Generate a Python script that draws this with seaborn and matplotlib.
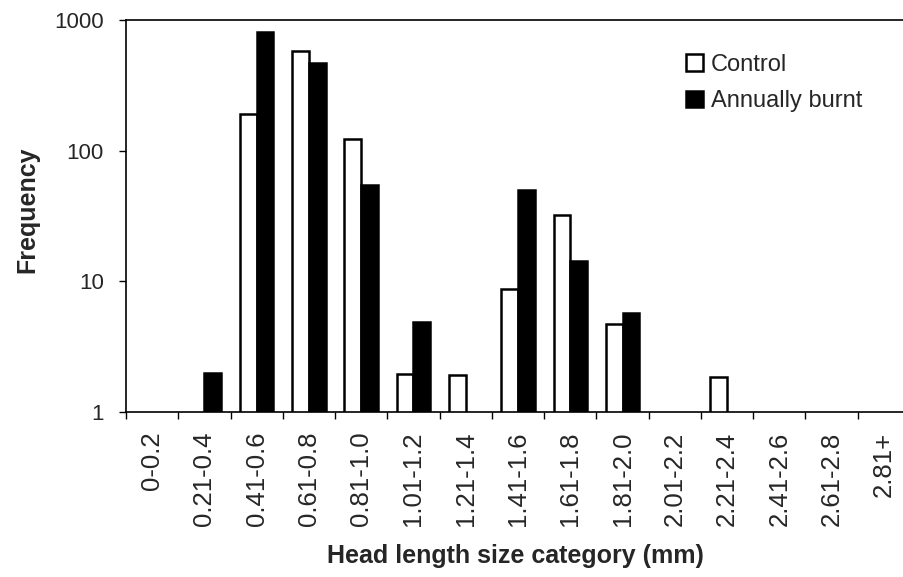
import numpy as np
import pandas as pd
import matplotlib
matplotlib.use("Agg")
import matplotlib.pyplot as plt
import seaborn as sns

categories = ["0-0.2", "0.21-0.4", "0.41-0.6", "0.61-0.8", "0.81-1.0",
              "1.01-1.2", "1.21-1.4", "1.41-1.6", "1.61-1.8", "1.81-2.0",
              "2.01-2.2", "2.21-2.4", "2.41-2.6", "2.61-2.8", "2.81+"]
control = [np.nan, np.nan, 190, 580, 123, 1.95, 1.93, 8.7, 32, 4.7,
           np.nan, 1.86, np.nan, np.nan, np.nan]
burnt = [np.nan, 2.0, 805, 465, 55, 4.9, np.nan, 50, 14.4, 5.75,
         np.nan, np.nan, np.nan, np.nan, np.nan]
series_names = ["Control", "Annually burnt"]

df = pd.DataFrame({
    "category": categories * 2,
    "treatment": [series_names[0]] * len(categories) + [series_names[1]] * len(categories),
    "frequency": control + burnt,
})

sns.set_style("white")
plt.rcParams["font.family"] = ["Liberation Sans", "DejaVu Sans"]

fig = plt.figure(figsize=(9.04, 5.77), dpi=100)
ax = fig.add_axes([126 / 904, 1 - 412 / 577, 784 / 904, 392 / 577])

sns.barplot(data=df, x="category", y="frequency", hue="treatment",
            order=categories, hue_order=series_names,
            palette=["white", "black"], edgecolor="black", linewidth=1.8,
            width=0.64, gap=0, errorbar=None, ax=ax)

ax.set_yscale("log")
ax.set_ylim(1, 1000)
ax.set_xlim(-0.5, len(categories) - 0.5)
ax.set_yticks([1, 10, 100, 1000])
ax.set_yticklabels(["1", "10", "100", "1000"])
ax.yaxis.set_minor_locator(matplotlib.ticker.NullLocator())

# category labels at bar centres, tick marks at category boundaries
ax.set_xticks(np.arange(len(categories)))
ax.set_xticklabels(categories, rotation=90, fontsize=18.5)
ax.tick_params(axis="x", which="major", length=0, pad=14)
ax.set_xticks(np.arange(len(categories)) - 0.5, minor=True)
ax.tick_params(axis="x", which="minor", length=5, width=1, direction="out",
               color="black", bottom=True)
ax.tick_params(axis="y", which="major", length=5, width=1, direction="out",
               color="black", left=True, labelsize=16, pad=11)

for side in ["left", "bottom", "top"]:
    ax.spines[side].set_visible(True)
    ax.spines[side].set_color("black")
    ax.spines[side].set_linewidth(1.2)
ax.spines["right"].set_visible(False)

ax.set_xlabel("Head length size category (mm)", fontsize=18, fontweight="bold")
ax.xaxis.set_label_coords((515 - 126) / 784, (412 - 544) / 392)
ax.set_ylabel("Frequency", fontsize=18, fontweight="bold")
ax.yaxis.set_label_coords((39 - 126) / 784, (412 - 210) / 392)

leg = ax.legend(loc="upper left", bbox_to_anchor=((686 - 126) / 784, (412 - 54) / 392),
                frameon=False, fontsize=17, handlelength=0.7, handleheight=0.7,
                handletextpad=0.35, labelspacing=0.6, borderpad=0,
                borderaxespad=0)

fig.savefig("out.png", dpi=100, facecolor="white")
